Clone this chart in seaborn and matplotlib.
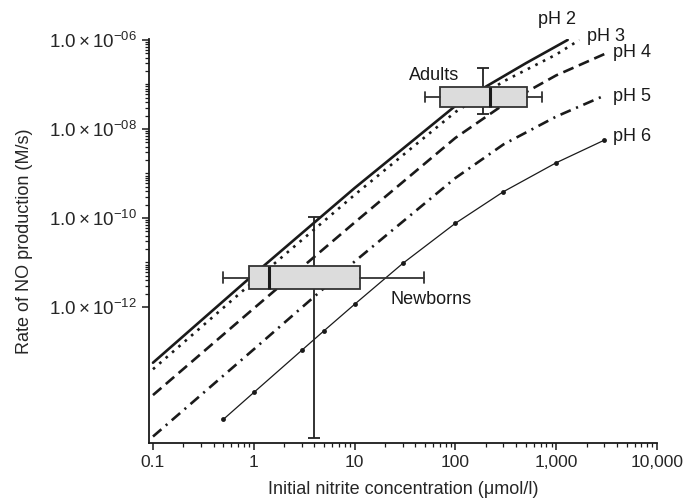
import numpy as np
import matplotlib
matplotlib.use("Agg")
import matplotlib.pyplot as plt
import matplotlib.ticker as mticker
import pandas as pd
import seaborn as sns

# curves (nitrite in umol/l, rate in M/s)
ph2_x = [0.1, 1, 10, 100, 200, 500, 1300]
ph2_y = [5.6e-14, 5.4e-12, 4.7e-10, 3.3e-08, 8.9e-08, 3.0e-07, 1.0e-06]
ph3_x = [0.1, 1, 10, 100, 300, 1000, 1700]
ph3_y = [4.0e-14, 3.8e-12, 3.3e-10, 2.4e-08, 1.17e-07, 4.7e-07, 1.0e-06]
ph4_x = [0.1, 1, 10, 100, 300, 1000, 3000]
ph4_y = [1.05e-14, 9.3e-13, 7.9e-11, 6.3e-09, 3.5e-08, 1.6e-07, 4.8e-07]
ph5_x = [0.1, 1, 10, 100, 300, 1000, 3000]
ph5_y = [1.23e-15, 1.12e-13, 1.05e-11, 7.9e-10, 4.5e-09, 1.9e-08, 5.6e-08]
ph6_x = [0.5, 1, 3, 5, 10, 30, 100, 300, 1000, 3000]
ph6_y = [3.0e-15, 1.2e-14, 1.07e-13, 2.95e-13, 1.15e-12, 9.5e-12, 7.6e-11, 3.9e-10, 1.74e-09, 5.6e-09]

# box summaries: whisker low, q1, median, q3, whisker high
newborn_box = [0.5, 0.9, 1.43, 11.3, 49]
newborn_rate = 4.6e-12
newborn_bar_x = 3.95
newborn_bar = [1.15e-15, 1.07e-10]
adult_box = [50, 70, 220, 510, 720]
adult_rate = 5.3e-08
adult_bar_x = 190
adult_bar = [2.2e-08, 2.4e-07]

x_ticks = [0.1, 1, 10, 100, 1000, 10000]
x_labels = ["0.1", "1", "10", "100", "1,000", "10,000"]
y_ticks = [1e-12, 1e-10, 1e-08, 1e-06]
y_labels = [r"$1.0\times10^{-12}$", r"$1.0\times10^{-10}$",
            r"$1.0\times10^{-08}$", r"$1.0\times10^{-06}$"]

sns.set_style("ticks")
plt.rcParams["font.family"] = ["Liberation Sans", "DejaVu Sans"]
plt.rcParams["mathtext.fontset"] = "custom"
plt.rcParams["mathtext.rm"] = "Liberation Sans"
plt.rcParams["mathtext.it"] = "Liberation Sans:italic"

fig = plt.figure(figsize=(6.86, 5.0), dpi=100)
ax = fig.add_axes([0.2172, 0.114, 0.7405, 0.808])
ax.set_xscale("log")
ax.set_yscale("log")

k = "#1a1a1a"
curves = [
    ("pH 2", ph2_x, ph2_y, "-", 1.9),
    ("pH 3", ph3_x, ph3_y, (0, (1.0, 2.2)), 1.9),
    ("pH 4", ph4_x, ph4_y, (0, (4.2, 2.2)), 1.9),
    ("pH 5", ph5_x, ph5_y, (0, (4.2, 2.2, 0.8, 2.2)), 1.9),
]
for name, xs, ys, ls, lw in curves:
    df = pd.DataFrame({"x": xs, "y": ys})
    sns.lineplot(data=df, x="x", y="y", ax=ax, color=k, lw=lw, linestyle=ls, sort=True)
df6 = pd.DataFrame({"x": ph6_x, "y": ph6_y})
sns.lineplot(data=df6, x="x", y="y", ax=ax, color=k, lw=0.9, marker="o", markersize=3.5,
             markeredgewidth=0)

# vertical range bars
for bx_, rng, c in [(newborn_bar_x, newborn_bar, newborn_rate), (adult_bar_x, adult_bar, adult_rate)]:
    ax.errorbar([bx_], [c], yerr=[[c - rng[0]], [rng[1] - c]], fmt="none",
                ecolor="#222222", elinewidth=1.3, capsize=4.5, capthick=1.3)

ylo, yhi = 8.8e-16, 1.05e-06
ax.set_xlim(0.0913, 10000)
ax.set_ylim(ylo, yhi)

ax.set_xticks(x_ticks)
ax.set_xticklabels(x_labels, fontsize=12.5)
ax.xaxis.set_minor_locator(mticker.LogLocator(base=10, subs=np.arange(2, 10), numticks=20))
ax.xaxis.set_minor_formatter(mticker.NullFormatter())
ax.set_yticks(y_ticks)
ax.set_yticklabels(y_labels, fontsize=13.5)
minor_y = [m * 10.0 ** e for e in range(-12, -6) for m in range(2, 10)] + [1e-11, 1e-09, 1e-07]
ax.yaxis.set_minor_locator(mticker.FixedLocator(minor_y))
ax.yaxis.set_minor_formatter(mticker.NullFormatter())
ax.tick_params(which="major", length=5, width=1.1, color=k, direction="out")
ax.tick_params(which="minor", length=3, width=0.9, color=k, direction="out")
sns.despine(ax=ax)
for s in ["left", "bottom"]:
    ax.spines[s].set_linewidth(1.3)
    ax.spines[s].set_color(k)

ax.set_xlabel("Initial nitrite concentration (\u03bcmol/l)", fontsize=13, labelpad=8)
ax.set_ylabel("Rate of NO production (M/s)", fontsize=13, labelpad=12)

# boxes drawn on an overlay with log10(rate) as a linear axis
bx = ax.twinx()
bx.set_ylim(np.log10(ylo), np.log10(yhi))
stats = []
for b in [newborn_box, adult_box]:
    stats.append(dict(whislo=b[0], q1=b[1], med=b[2], q3=b[3], whishi=b[4], fliers=[]))
bx.bxp(stats, positions=[np.log10(newborn_rate), np.log10(adult_rate)], widths=[0.52, 0.44],
       orientation="horizontal", patch_artist=True, showfliers=False,
       boxprops=dict(facecolor="#dcdcdc", edgecolor="#333333", linewidth=1.3),
       medianprops=dict(color="#1a1a1a", linewidth=2.2),
       whiskerprops=dict(color="#333333", linewidth=1.3),
       capprops=dict(color="#333333", linewidth=1.3))
bx.axis("off")

# labels
txt = dict(fontsize=13, color=k)
ax.text(1020, 10 ** -5.55, "pH 2", ha="center", va="center", clip_on=False, **txt)
ax.text(2020, 10 ** -5.93, "pH 3", ha="left", va="center", clip_on=False, **txt)
ax.text(3660, 10 ** -6.29, "pH 4", ha="left", va="center", **txt)
ax.text(3660, 10 ** -7.28, "pH 5", ha="left", va="center", **txt)
ax.text(3660, 10 ** -8.18, "pH 6", ha="left", va="center", **txt)
ax.text(61.4, 10 ** -6.79, "Adults", ha="center", va="center", **txt)
ax.text(22.8, 10 ** -11.84, "Newborns", ha="left", va="center", **txt)

fig.savefig("out.png", dpi=100)
